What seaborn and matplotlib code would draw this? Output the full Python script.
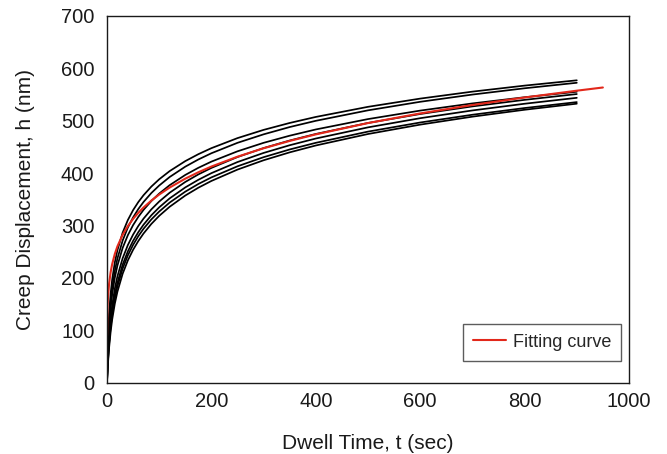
import matplotlib
matplotlib.use("Agg")
import matplotlib.pyplot as plt
import seaborn as sns
import pandas as pd

# Dwell time grid (sec)
t_grid = [0, 1, 2, 4, 7, 10, 15, 20, 30, 40, 50, 60, 70, 85, 100, 120, 150, 175, 200,
          250, 300, 350, 400, 500, 600, 700, 800, 900]

# Measured creep curves (nm)
curve_1 = [0, 54.8, 88.0, 130.7, 170.5, 197.7, 229.7, 253.0, 286.5, 310.6, 329.4, 344.8,
           357.9, 374.4, 388.3, 403.9, 423.0, 436.2, 447.7,
           466.9, 482.6, 495.8, 507.3, 526.6, 542.3, 555.6, 567.1, 577.2]
curve_2 = [0, 45.1, 74.9, 115.2, 154.1, 181.1, 213.5, 237.2, 271.4, 296.2, 315.5, 331.5,
           345.0, 362.1, 376.4, 392.6, 412.4, 426.1, 438.0,
           457.9, 474.1, 488.0, 499.9, 519.9, 536.2, 550.0, 562.0, 572.5]
curve_3 = [0, 39.9, 67.4, 105.3, 142.6, 168.8, 200.4, 223.6, 257.3, 281.7, 300.8, 316.5,
           329.9, 346.8, 361.0, 377.0, 396.6, 410.2, 422.0,
           441.7, 457.9, 471.5, 483.4, 503.2, 519.4, 533.1, 544.9, 555.4]
curve_4 = [0, 30.4, 53.3, 87.2, 122.5, 148.0, 179.5, 203.1, 237.6, 262.8, 282.7, 299.2,
           313.2, 330.9, 345.8, 362.6, 383.2, 397.6, 410.0,
           430.8, 447.9, 462.3, 474.8, 495.8, 512.9, 527.4, 539.9, 551.0]
curve_5 = [0, 26.2, 46.8, 78.1, 111.7, 136.5, 167.4, 190.9, 225.4, 250.8, 270.8, 287.4,
           301.6, 319.6, 334.7, 351.8, 372.8, 387.3, 400.0,
           421.2, 438.6, 453.3, 466.1, 487.4, 504.9, 519.7, 532.5, 543.8]
curve_6 = [0, 24.3, 43.7, 73.6, 106.1, 130.3, 160.7, 183.8, 218.0, 243.2, 263.1, 279.7,
           293.8, 311.7, 326.7, 343.8, 364.7, 379.3, 391.9,
           413.1, 430.5, 445.2, 457.9, 479.3, 496.7, 511.5, 524.3, 535.6]
curve_7 = [0, 21.2, 38.7, 66.4, 97.3, 120.9, 150.8, 173.7, 208.0, 233.5, 253.7, 270.4,
           284.8, 303.1, 318.5, 335.8, 357.3, 372.2, 385.1,
           406.8, 424.6, 439.7, 452.8, 474.7, 492.6, 507.8, 521.0, 532.6]

# Fitting curve
t_fit = [0.1, 1, 2, 4, 7, 10, 15, 20, 30, 40, 50, 60, 70, 85, 100, 120, 150, 175, 200,
         250, 300, 350, 400, 500, 600, 700, 800, 900, 950]
h_fit = [90.2, 143.0, 164.3, 188.7, 211.0, 226.6, 245.8, 260.3, 282.3, 299.1, 312.7, 324.3,
         334.4, 347.7, 359.2, 372.5, 389.5, 401.7, 412.6,
         431.4, 447.5, 461.5, 474.0, 495.6, 514.0, 530.1, 544.4, 557.4, 563.5]

x_ticks = [0, 200, 400, 600, 800, 1000]
y_ticks = [0, 100, 200, 300, 400, 500, 600, 700]

curves = [curve_1, curve_2, curve_3, curve_4, curve_5, curve_6, curve_7]
rows = []
for i, c in enumerate(curves):
    for t, h in zip(t_grid, c):
        rows.append({"t": t, "h": h, "curve": i})
df = pd.DataFrame(rows)
df_fit = pd.DataFrame({"t": t_fit, "h": h_fit})

sns.set_style("white")
plt.rcParams["font.family"] = ["Liberation Sans", "DejaVu Sans"]

fig = plt.figure(figsize=(6.67, 4.54), dpi=100)
ax = fig.add_axes([0.1604, 0.157, 0.943 - 0.1604, 0.9648 - 0.157])

sns.lineplot(data=df, x="t", y="h", units="curve", estimator=None,
             color="black", linewidth=1.25, ax=ax, legend=False)
sns.lineplot(data=df_fit, x="t", y="h", color="#e2281b", linewidth=1.5,
             ax=ax, label="Fitting curve")

ax.set_xlim(0, 1000)
ax.set_ylim(0, 700)
ax.set_xticks(x_ticks)
ax.set_yticks(y_ticks)
ax.set_xlabel("Dwell Time, t (sec)", fontsize=15, color="#1a1a1a", labelpad=16)
ax.set_ylabel("Creep Displacement, h (nm)", fontsize=15, color="#1a1a1a", labelpad=19)
ax.tick_params(axis="x", direction="in", length=5, width=1, labelsize=14.5,
               colors="#1a1a1a", pad=7, top=False)
ax.tick_params(axis="y", direction="out", length=5, width=1, labelsize=14.5,
               colors="#1a1a1a", pad=4, right=False)
for sp in ax.spines.values():
    sp.set_visible(True)
    sp.set_color("#1a1a1a")
    sp.set_linewidth(1.0)

leg = ax.legend(loc="lower right", bbox_to_anchor=(0.985, 0.06), fontsize=13,
                frameon=True, fancybox=False, handlelength=1.8, borderpad=0.55,
                handletextpad=0.4, borderaxespad=0)
leg.get_frame().set_edgecolor("#333333")
leg.get_frame().set_linewidth(1.0)

fig.savefig("out.png", dpi=100)
